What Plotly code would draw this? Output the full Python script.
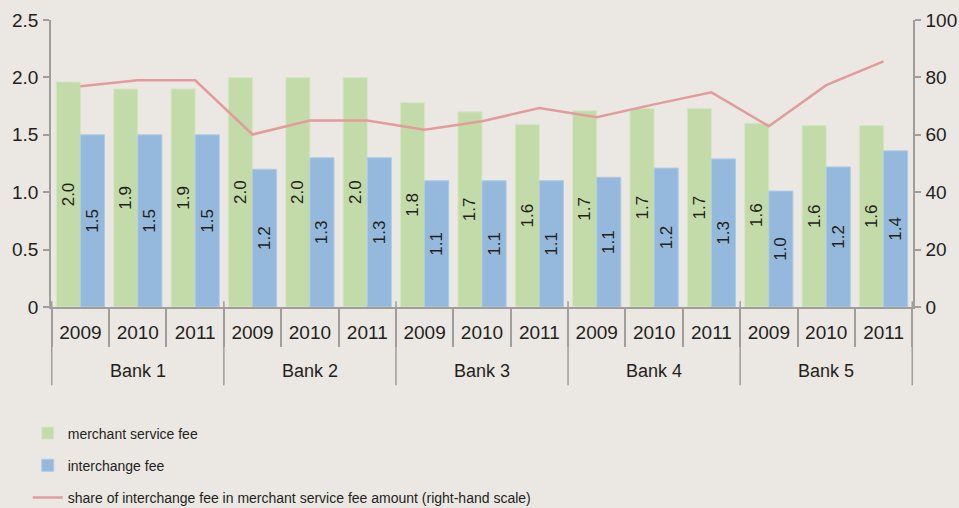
import plotly.graph_objects as go

# ─── Data ────────────────────────────────────────────────────────────────────

BANKS = ["Bank 1", "Bank 2", "Bank 3", "Bank 4", "Bank 5"]
YEARS = ["2009", "2010", "2011"]

MERCHANT_FEE = [1.96, 1.90, 1.90, 2.00, 2.00, 2.00, 1.78, 1.70, 1.59,
                1.71, 1.73, 1.73, 1.60, 1.58, 1.58]
INTERCHANGE_FEE = [1.50, 1.50, 1.50, 1.20, 1.30, 1.30, 1.10, 1.10, 1.10,
                   1.13, 1.21, 1.29, 1.01, 1.22, 1.36]
SHARE = [76.9, 79.0, 79.0, 60.1, 65.0, 65.0, 61.8, 64.7, 69.3,
         66.1, 70.6, 74.8, 63.0, 77.3, 85.6]

Y_TICKS = [0, 0.5, 1.0, 1.5, 2.0, 2.5]
Y_TICK_TEXT = ["0", "0.5", "1.0", "1.5", "2.0", "2.5"]

# ─── Theme ───────────────────────────────────────────────────────────────────

BG = "#ebe7e3"
GREEN = "#c3dba8"
BLUE = "#94b9dc"
PINK = "#e39c9c"
AXIS = "#a19d9a"
TEXT = "#231f20"
FONT = "Liberation Sans, Arial, sans-serif"

cats = [f"{b} {y}" for b in BANKS for y in YEARS]
year_text = [y for _ in BANKS for y in YEARS]

fig = go.Figure()
fig.add_trace(go.Bar(
    x=cats, y=MERCHANT_FEE, name="merchant service fee", legendgroup="a",
    marker=dict(color=GREEN, line=dict(color="#d6e6c4", width=1)),
    texttemplate="%{y:.1f}", textposition="inside", insidetextanchor="middle",
    textangle=-90, constraintext="none",
    insidetextfont=dict(family=FONT, size=17, color=TEXT),
))
fig.add_trace(go.Bar(
    x=cats, y=INTERCHANGE_FEE, name="interchange fee", legendgroup="b",
    marker=dict(color=BLUE, line=dict(color="#aecbe6", width=1)),
    texttemplate="%{y:.1f}", textposition="inside", insidetextanchor="middle",
    textangle=-90, constraintext="none",
    insidetextfont=dict(family=FONT, size=17, color=TEXT),
))
fig.add_trace(go.Scatter(
    x=cats, y=SHARE, yaxis="y2", mode="lines", legendgroup="c",
    name="share of interchange fee in merchant service fee amount (right-hand scale)",
    line=dict(color=PINK, width=2.5),
))

# bank group dividers and labels under the year labels
n = len(YEARS)
for i, bank in enumerate(BANKS + [None]):
    fig.add_shape(type="line", xref="x", yref="paper",
                  x0=i * n - 0.5, x1=i * n - 0.5, y0=0.02, y1=-0.273,
                  line=dict(color=AXIS, width=1.5))
    if bank:
        fig.add_annotation(x=cats[i * n + n // 2], y=-0.224, xref="x", yref="paper",
                           text=bank, showarrow=False, yanchor="middle",
                           font=dict(size=18, color=TEXT))

fig.update_layout(
    width=959, height=508,
    paper_bgcolor=BG, plot_bgcolor=BG,
    font=dict(family=FONT, size=19, color=TEXT),
    barmode="group", bargap=0.16, bargroupgap=0,
    margin=dict(l=51, r=46, t=20, b=201, autoexpand=False),
    showlegend=True,
    legend=dict(
        x=-0.027, y=-0.385, xanchor="left", yanchor="top",
        bgcolor="rgba(0,0,0,0)", tracegroupgap=11, traceorder="grouped",
        font=dict(family=FONT, size=14, color=TEXT), itemwidth=30,
    ),
    xaxis=dict(
        type="category", tickvals=cats, ticktext=year_text,
        showline=True, linecolor=AXIS, linewidth=1.5,
        ticks="outside", tickson="boundaries", ticklen=38, tickcolor=AXIS, tickwidth=1.5,
        showgrid=False, zeroline=False, tickfont=dict(size=19), ticklabelstandoff=7,
    ),
    yaxis=dict(
        range=[0, 2.5], tickvals=Y_TICKS, ticktext=Y_TICK_TEXT,
        showline=True, linecolor=AXIS, linewidth=1.5,
        ticks="outside", ticklen=6, tickcolor=AXIS, tickwidth=1.5,
        showgrid=False, zeroline=False, ticklabelstandoff=1,
    ),
    yaxis2=dict(
        range=[0, 100], dtick=20, overlaying="y", side="right",
        showline=True, linecolor=AXIS, linewidth=1.5,
        ticks="outside", ticklen=6, tickcolor=AXIS, tickwidth=1.5,
        showgrid=False, zeroline=False, ticklabelstandoff=1,
    ),
)

fig.write_html("out.html", config={"displayModeBar": False},
               post_script="document.body.style.margin='0';")
